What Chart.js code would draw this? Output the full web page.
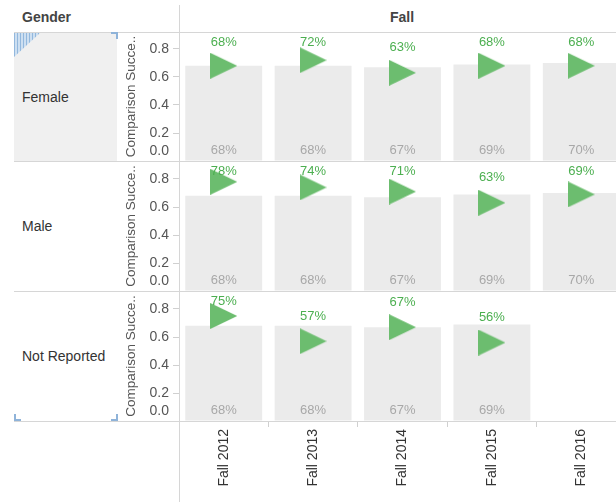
<!DOCTYPE html>
<html>
<head>
<meta charset="utf-8">
<script src="https://cdn.jsdelivr.net/npm/chart.js@4/dist/chart.umd.min.js"></script>
<style>
  html, body { margin: 0; padding: 0; }
  body {
    width: 616px; height: 502px; overflow: hidden; position: relative;
    background: #fff; font-family: 'Liberation Sans', Arial, sans-serif;
  }
  .abs { position: absolute; }
  .hline { position: absolute; left: 14px; width: 602px; height: 1px; background: #d6d6d6; z-index: 3; }
  .vline { position: absolute; left: 179px; top: 5px; width: 1px; height: 497px; background: #d6d6d6; z-index: 3; }
  .hdr { position: absolute; top: 8px; font-size: 14px; font-weight: bold; color: #444; line-height: 18px; }
  .rowlab { position: absolute; left: 22px; font-size: 14px; color: #333; line-height: 18px; }
  .corner { position: absolute; width: 5px; height: 5px; border: 0 solid #8fb3d9; z-index: 4; }
  canvas { position: absolute; z-index: 2; }
</style>
</head>
<body>
<script>
// --- Data ---
const terms = ["Fall 2012", "Fall 2013", "Fall 2014", "Fall 2015", "Fall 2016"];
const comparison = [0.68, 0.68, 0.67, 0.69, 0.70];
const notReportedComparison = [0.68, 0.68, 0.67, 0.69, null];
const female = [0.68, 0.72, 0.63, 0.68, 0.68];
const male = [0.78, 0.74, 0.71, 0.63, 0.69];
const notReported = [0.75, 0.57, 0.67, 0.56, null];
const genders = ["Female", "Male", "Not Reported"];
const yTickStep = 0.2;
const axisTitle = "Comparison Succe..";

// --- Layout (pixels) ---
const rowTops = [32, 161, 291];
const rowBottoms = [161, 291, 421];
const pxPerUnit = 140;
const FONT = "'Liberation Sans', Arial, sans-serif";

// --- Frame: headers, row labels, lines ---
function addDiv(cls, style, text) {
  const d = document.createElement("div");
  d.className = cls;
  Object.assign(d.style, style);
  if (text) d.textContent = text;
  document.body.appendChild(d);
  return d;
}

// selected row header background
addDiv("abs", { left: "14px", top: "33px", width: "103px", height: "128px", background: "#f0f0f0" });
addDiv("abs", {
  left: "14px", top: "33px", width: "26px", height: "24px", zIndex: 4,
  background: "repeating-linear-gradient(90deg, #93b8dd 0 1px, #cddff1 1px 3px)",
  clipPath: "polygon(0 0, 100% 0, 0 100%)"
});
addDiv("corner", { left: "111px", top: "32px", borderTopWidth: "2px", borderRightWidth: "2px" });
addDiv("corner", { left: "14px", top: "414px", borderLeftWidth: "2px", borderBottomWidth: "2px" });
addDiv("corner", { left: "111px", top: "414px", borderRightWidth: "2px", borderBottomWidth: "2px" });

addDiv("hdr", { left: "22px" }, "Gender");
addDiv("hdr", { left: "402px", transform: "translateX(-50%)" }, "Fall");

genders.forEach((g, i) => {
  const mid = (rowTops[i] + rowBottoms[i]) / 2;
  addDiv("rowlab", { top: (mid - 9) + "px" }, g);
});

[32, 161, 291, 421].forEach(y => addDiv("hline", { top: y + "px" }));
addDiv("vline", {});

// --- Triangle marker ---
const tri = document.createElement("canvas");
tri.width = 27; tri.height = 26;
const tctx = tri.getContext("2d");
tctx.fillStyle = "#6cbd6f";
tctx.beginPath();
tctx.moveTo(0, 0);
tctx.lineTo(27, 13);
tctx.lineTo(0, 26);
tctx.closePath();
tctx.fill();

const pct = v => Math.round(v * 100) + "%";

// --- Labels plugin: y ticks, value labels ---
const labelPlugin = {
  id: "labels",
  afterDatasetsDraw(chart) {
    const ctx = chart.ctx;
    const area = chart.chartArea;
    const y = chart.scales.y;
    ctx.save();
    ctx.textBaseline = "middle";

    // y tick labels, kept inside the panel
    ctx.font = "14px " + FONT;
    ctx.fillStyle = "#555";
    ctx.textAlign = "right";
    y.ticks.forEach(t => {
      let py = y.getPixelForValue(t.value);
      py = Math.min(Math.max(py, area.top + 8), area.bottom - 10);
      ctx.fillText(t.value.toFixed(1), area.left - 10, py);
    });

    ctx.textAlign = "center";
    ctx.font = "13px " + FONT;

    // comparison labels at bar base
    const barMeta = chart.getDatasetMeta(1);
    ctx.fillStyle = "#a8a8a8";
    chart.data.datasets[1].data.forEach((v, i) => {
      if (v == null) return;
      ctx.fillText(pct(v), barMeta.data[i].x, area.bottom - 11);
    });

    // actual values above markers
    const ptMeta = chart.getDatasetMeta(0);
    ctx.fillStyle = "#4caf50";
    chart.data.datasets[0].data.forEach((v, i) => {
      if (v == null) return;
      const p = ptMeta.data[i];
      ctx.fillText(pct(v), p.x, Math.max(p.y - 25, area.top + 10));
    });
    ctx.restore();
  }
};

// --- Charts ---
function makeRow(i, values, comp) {
  const isLast = i === genders.length - 1;
  const top = rowTops[i];
  const height = (isLast ? 502 : rowBottoms[i]) - top;
  const cv = document.createElement("canvas");
  cv.width = 509;
  cv.height = height;
  cv.style.left = "117px";
  cv.style.top = top + "px";
  document.body.appendChild(cv);

  const xScale = {
    display: isLast,
    offset: true,
    grid: {
      offset: true, drawOnChartArea: false, drawTicks: true,
      tickLength: 6, color: "#d0d0d0"
    },
    border: { display: false },
    ticks: {
      minRotation: 90, maxRotation: 90, padding: 2,
      color: "#333", font: { size: 14, family: FONT }
    }
  };
  if (isLast) {
    xScale.afterFit = s => { s.height = 81; s.paddingLeft = 0; s.paddingRight = 0; };
  }

  return new Chart(cv.getContext("2d"), {
    type: "bar",
    data: {
      labels: terms,
      datasets: [
        {
          type: "line",
          data: values,
          showLine: false,
          pointStyle: tri,
          pointRadius: 13,
          clip: false,
          order: 0
        },
        {
          type: "bar",
          data: comp,
          backgroundColor: "#ebebeb",
          barPercentage: 0.86,
          categoryPercentage: 1,
          order: 1
        }
      ]
    },
    options: {
      responsive: false,
      animation: false,
      events: [],
      layout: { padding: 0, autoPadding: false },
      plugins: { legend: { display: false }, tooltip: { enabled: false } },
      scales: {
        x: xScale,
        y: {
          min: 0,
          max: (rowBottoms[i] - top) / pxPerUnit,
          ticks: { stepSize: yTickStep, includeBounds: false, display: false },
          grid: {
            drawOnChartArea: false, drawTicks: true, tickLength: 6,
            color: c => (c.tick && c.tick.value === 0) ? "rgba(0,0,0,0)" : "#d0d0d0"
          },
          border: { display: false },
          title: {
            display: true, text: axisTitle, color: "#555",
            font: { size: 13.5, family: FONT }, padding: { top: 6, bottom: 0 }
          },
          afterFit: s => { s.width = 62; }
        }
      }
    },
    plugins: [labelPlugin]
  });
}

makeRow(0, female, comparison);
makeRow(1, male, comparison);
makeRow(2, notReported, notReportedComparison);
</script>
</body>
</html>
